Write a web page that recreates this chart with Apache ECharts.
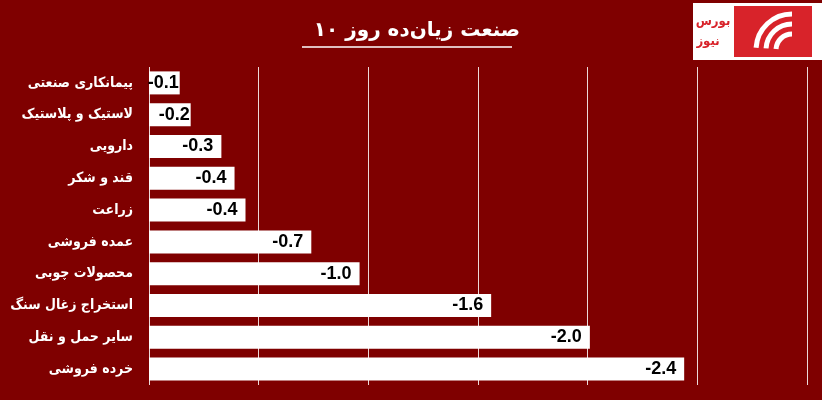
<!DOCTYPE html>
<html><head><meta charset="utf-8">
<script src="https://cdn.jsdelivr.net/npm/echarts@6/dist/echarts.min.js"></script>
<style>html,body{margin:0;padding:0;background:#7f0000;}#c{width:822px;height:400px;}</style>
</head><body><div id="c"></div>
<script>
const categories = ["پیمانکاری صنعتی","لاستیک و پلاستیک","دارویی","قند و شکر","زراعت","عمده فروشی","محصولات چوبی","استخراج زغال سنگ","سایر حمل و نقل","خرده فروشی"];
const values = [-0.14,-0.19,-0.33,-0.39,-0.44,-0.74,-0.96,-1.56,-2.01,-2.44];
const axisTicks = [0,-0.5,-1,-1.5,-2,-2.5,-3];
const titleText = "۱۰ صنعت زیان‌ده روز";
const logoLine1 = "بورس";
const logoLine2 = "نیوز";

const chart = echarts.init(document.getElementById('c'), null, {renderer:'canvas'});
chart.setOption({
  backgroundColor:'#7f0000',
  animation:false,
  title:{text:titleText,left:412,top:16,textAlign:'center',
    textStyle:{color:'#fff',fontSize:20,fontWeight:'bold',fontFamily:'DejaVu Sans'}},
  grid:{left:149,right:15,top:67,bottom:15,containLabel:false,outerBoundsMode:'none'},
  xAxis:{type:'value',min:axisTicks[axisTicks.length-1],max:axisTicks[0],interval:0.5,inverse:true,
    axisLabel:{show:false},axisLine:{show:false},axisTick:{show:false},
    splitLine:{show:true,lineStyle:{color:'rgba(255,255,255,0.85)',width:1}}},
  yAxis:{type:'category',data:categories,inverse:true,
    axisLine:{show:false},axisTick:{show:false},
    axisLabel:{color:'#fff',fontSize:14,fontWeight:'bold',fontFamily:'DejaVu Sans Condensed, DejaVu Sans',margin:16}},
  series:[{type:'bar',barWidth:23,
    data:values.map(v=>({value:v,label:{distance:Math.abs(v)<0.25?1:8}})),
    itemStyle:{color:'#ffffff'},
    label:{show:true,position:'insideRight',color:'#000',fontSize:18,fontWeight:'bold',
      fontFamily:'Liberation Sans',formatter:p=>p.value.toFixed(1)}}],
  graphic:[
    {type:'line',shape:{x1:302,y1:47,x2:512,y2:47},style:{stroke:'#fff',lineWidth:1.5}},
    {type:'rect',shape:{x:693,y:3,width:129,height:57},style:{fill:'#fff'}},
    {type:'rect',shape:{x:734,y:6,width:78,height:51},style:{fill:'#d8232a'}},
    {type:'arc',shape:{cx:792,cy:50,r:36,startAngle:Math.PI*1.02,endAngle:Math.PI*1.5},style:{stroke:'#fff',lineWidth:5,fill:null}},
    {type:'arc',shape:{cx:792,cy:50,r:26,startAngle:Math.PI*1.02,endAngle:Math.PI*1.5},style:{stroke:'#fff',lineWidth:5,fill:null}},
    {type:'arc',shape:{cx:792,cy:50,r:16,startAngle:Math.PI*1.02,endAngle:Math.PI*1.5},style:{stroke:'#fff',lineWidth:5,fill:null}},
    {type:'text',style:{text:logoLine1,x:713,y:22,align:'center',verticalAlign:'middle',
      fill:'#d8232a',font:'bold 13px DejaVu Sans Condensed'}},
    {type:'text',style:{text:logoLine2,x:708,y:42,align:'center',verticalAlign:'middle',
      fill:'#d8232a',font:'bold 13px DejaVu Sans Condensed'}}
  ]
});
</script></body></html>
